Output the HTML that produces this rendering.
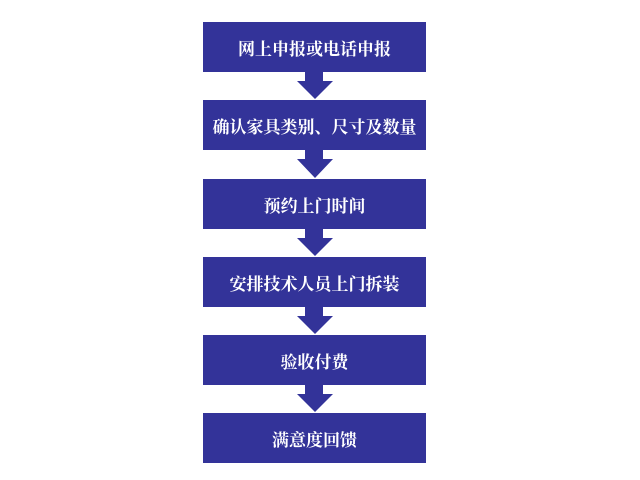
<!DOCTYPE html>
<html><head><meta charset="utf-8"><style>
body{margin:0;width:640px;height:480px;background:#fff;position:relative;overflow:hidden}
.b{position:absolute;left:203px;width:223px;height:50px;background:#333399;color:#fff;font:bold 17px "Liberation Serif","Noto Serif CJK SC",serif;display:flex;align-items:center;justify-content:center}
svg{position:absolute;left:0;top:0}
</style></head><body>
<div class="b" style="top:22px">网上申报或电话申报</div>
<div class="b" style="top:100px">确认家具类别、尺寸及数量</div>
<div class="b" style="top:179px">预约上门时间</div>
<div class="b" style="top:257px">安排技术人员上门拆装</div>
<div class="b" style="top:335px">验收付费</div>
<div class="b" style="top:413px">满意度回馈</div>
<svg width="640" height="480">
<g fill="#333399">
<path d="M305 72H323V81H333L315 99L297 81H305Z"/>
<path d="M305 150H323V159H333L315 178L297 159H305Z"/>
<path d="M305 229H323V238H333L315 256L297 238H305Z"/>
<path d="M305 307H323V316H333L315 334L297 316H305Z"/>
<path d="M305 385H323V394H333L315 412L297 394H305Z"/>
</g></svg>
</body></html>
